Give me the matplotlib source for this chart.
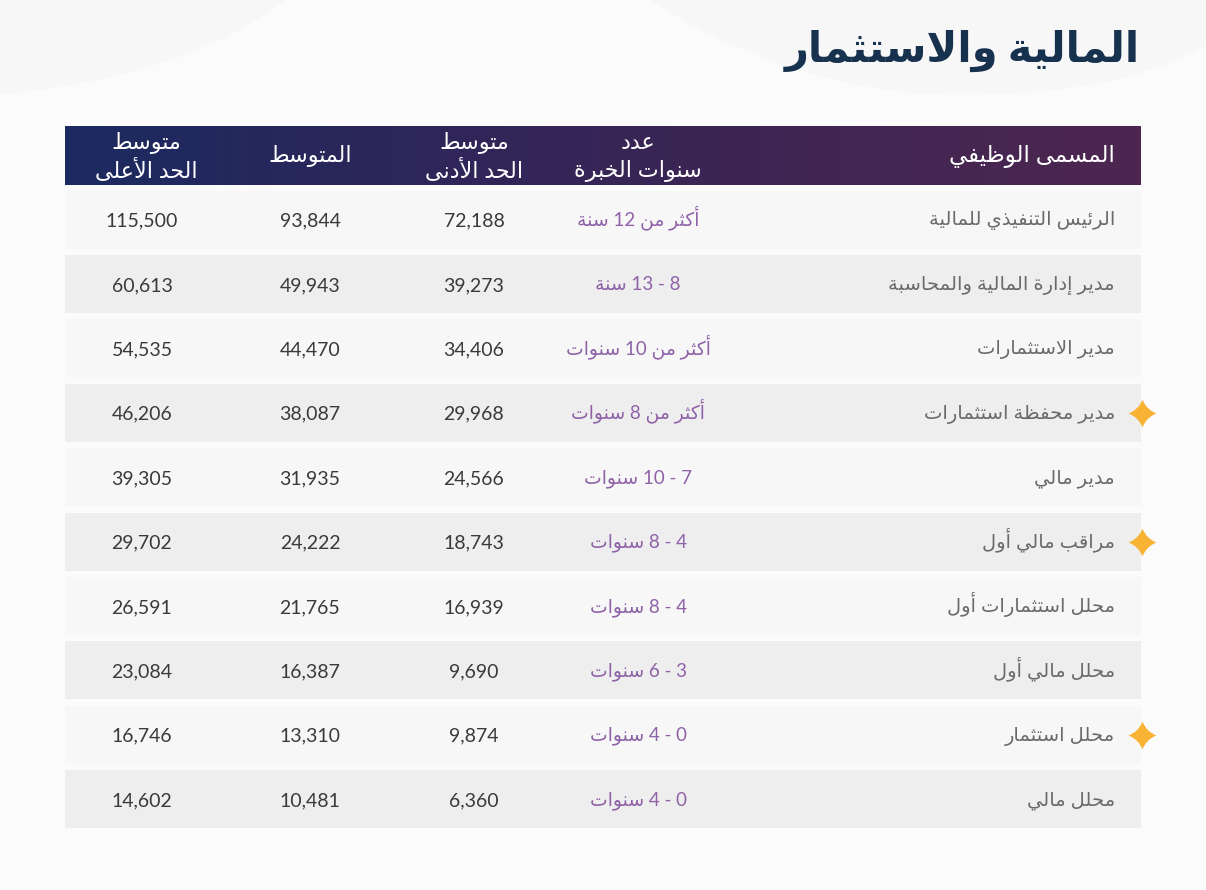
import re
import matplotlib
matplotlib.use("Agg")
import matplotlib.pyplot as plt
import numpy as np
from matplotlib.colors import LinearSegmentedColormap
from matplotlib.patches import PathPatch, Rectangle
from matplotlib.path import Path

title = "المالية والاستثمار"
headers = ["متوسط\nالحد الأعلى", "المتوسط", "متوسط\nالحد الأدنى", "عدد\nسنوات الخبرة", "المسمى الوظيفي"]
jobs = [
    "الرئيس التنفيذي للمالية",
    "مدير إدارة المالية والمحاسبة",
    "مدير الاستثمارات",
    "مدير محفظة استثمارات",
    "مدير مالي",
    "مراقب مالي أول",
    "محلل استثمارات أول",
    "محلل مالي أول",
    "محلل استثمار",
    "محلل مالي",
]
experience = [
    "أكثر من 12 سنة",
    "8 - 13 سنة",
    "أكثر من 10 سنوات",
    "أكثر من 8 سنوات",
    "7 - 10 سنوات",
    "4 - 8 سنوات",
    "4 - 8 سنوات",
    "3 - 6 سنوات",
    "0 - 4 سنوات",
    "0 - 4 سنوات",
]
salary_min = [72188, 39273, 34406, 29968, 24566, 18743, 16939, 9690, 9874, 6360]
salary_avg = [93844, 49943, 44470, 38087, 31935, 24222, 21765, 16387, 13310, 10481]
salary_max = [115500, 60613, 54535, 46206, 39305, 29702, 26591, 23084, 16746, 14602]
starred = [False, False, False, True, False, True, False, False, True, False]

# first presentation form of each letter, and whether it has initial/medial forms
FORMS = {
    "آ": (0xFE81, 2), "أ": (0xFE83, 2), "ؤ": (0xFE85, 2), "إ": (0xFE87, 2), "ئ": (0xFE89, 4),
    "ا": (0xFE8D, 2), "ب": (0xFE8F, 4), "ة": (0xFE93, 2), "ت": (0xFE95, 4), "ث": (0xFE99, 4),
    "ج": (0xFE9D, 4), "ح": (0xFEA1, 4), "خ": (0xFEA5, 4), "د": (0xFEA9, 2), "ذ": (0xFEAB, 2),
    "ر": (0xFEAD, 2), "ز": (0xFEAF, 2), "س": (0xFEB1, 4), "ش": (0xFEB5, 4), "ص": (0xFEB9, 4),
    "ض": (0xFEBD, 4), "ط": (0xFEC1, 4), "ظ": (0xFEC5, 4), "ع": (0xFEC9, 4), "غ": (0xFECD, 4),
    "ف": (0xFED1, 4), "ق": (0xFED5, 4), "ك": (0xFED9, 4), "ل": (0xFEDD, 4), "م": (0xFEE1, 4),
    "ن": (0xFEE5, 4), "ه": (0xFEE9, 4), "و": (0xFEED, 2), "ى": (0xFEEF, 2), "ي": (0xFEF1, 4),
}
LAM_ALEF = {"آ": 0xFEF5, "أ": 0xFEF7, "إ": 0xFEF9, "ا": 0xFEFB}


def shape_line(line):
    # matplotlib has no arabic shaping or bidi, so do it here
    out = []
    i = 0
    prev_joins = False
    while i < len(line):
        ch = line[i]
        if ch not in FORMS:
            out.append(ch)
            prev_joins = False
            i += 1
            continue
        if ch == "ل" and i + 1 < len(line) and line[i + 1] in LAM_ALEF:
            out.append(chr(LAM_ALEF[line[i + 1]] + (1 if prev_joins else 0)))
            prev_joins = False
            i += 2
            continue
        base, n = FORMS[ch]
        next_ch = line[i + 1] if i + 1 < len(line) else ""
        next_joins = n == 4 and next_ch in FORMS
        if prev_joins and next_joins:
            code = base + 3
        elif next_joins:
            code = base + 2
        elif prev_joins:
            code = base + 1
        else:
            code = base
        out.append(chr(code))
        prev_joins = next_joins
        i += 1
    visual = "".join(out)[::-1]
    return re.sub(r"\d+", lambda m: m.group(0)[::-1], visual)


W, H = 1206, 890
FONT = ["Lato", "DejaVu Sans"]
plt.rcParams["font.family"] = FONT

fig = plt.figure(figsize=(W / 100, H / 100), dpi=100, facecolor="#fbfbfc")
ax = fig.add_axes([0, 0, 1, 1])
ax.axis("off")

# pale curved shapes behind the title
left_blob = Path(
    [(0, 0), (285, 0), (190, 75), (0, 95), (0, 0)],
    [Path.MOVETO, Path.LINETO, Path.CURVE3, Path.CURVE3, Path.CLOSEPOLY],
)
right_blob = Path(
    [(650, 0), (800, 95), (960, 95), (1120, 95), (1206, 45), (1206, 0), (650, 0)],
    [Path.MOVETO, Path.CURVE3, Path.CURVE3, Path.CURVE3, Path.CURVE3, Path.LINETO, Path.CLOSEPOLY],
)
ax.add_patch(PathPatch(left_blob, fc="#f7f7f8", ec="none"))
ax.add_patch(PathPatch(right_blob, fc="#f7f7f8", ec="none"))

ax.text(1140, 62, shape_line(title), ha="right", va="baseline", fontsize=30, fontweight="bold", color="#17324f")

# header band
x0, x1 = 65, 1141
cmap = LinearSegmentedColormap.from_list("band", ["#1b2a60", "#2e2659", "#3f2553", "#4d2750"])
ax.imshow(np.linspace(0, 1, 256).reshape(1, -1), cmap=cmap, extent=(x0, x1, 185, 126), aspect="auto", zorder=1)

col_x = [146, 310, 474, 638]
for x, label in zip(col_x, headers):
    parts = label.split("\n")
    baselines = [149, 177] if len(parts) == 2 else [162]
    for part, base_y in zip(parts, baselines):
        ax.text(x, base_y, shape_line(part), ha="center", va="baseline", fontsize=16, color="white", zorder=3)
ax.text(1115, 162, shape_line(headers[4]), ha="right", va="baseline", fontsize=16.5, color="white", zorder=3)

# rows
first_row, row_step, row_h = 219.5, 64.4, 58
star = Path(
    [(0, 1), (0.28, 0.28), (1, 0), (0.28, -0.28), (0, -1), (-0.28, -0.28), (-1, 0), (-0.28, 0.28), (0, 1), (0, 1)],
    [Path.MOVETO, Path.CURVE3, Path.CURVE3, Path.CURVE3, Path.CURVE3, Path.CURVE3, Path.CURVE3, Path.CURVE3, Path.CURVE3, Path.CLOSEPOLY],
)
for i, job in enumerate(jobs):
    y = first_row + i * row_step
    ax.add_patch(Rectangle((x0, y - row_h / 2), x1 - x0, row_h, fc="#eeeeef" if i % 2 else "#f7f7f8", ec="none", zorder=1))
    ax.text(1115, y + 6, shape_line(job), ha="right", va="baseline", fontsize=14, color="#6a6a6d", zorder=3)
    ax.text(col_x[3], y + 6, shape_line(experience[i]), ha="center", va="baseline", fontsize=13.5, color="#8f62a8", zorder=3)
    ax.text(col_x[2], y + 7, f"{salary_min[i]:,}", ha="center", va="baseline", fontsize=14, color="#3a3a3c", zorder=3)
    ax.text(col_x[1], y + 7, f"{salary_avg[i]:,}", ha="center", va="baseline", fontsize=14, color="#3a3a3c", zorder=3)
    ax.text(142, y + 7, f"{salary_max[i]:,}", ha="center", va="baseline", fontsize=14, color="#3a3a3c", zorder=3)
    if starred[i]:
        ax.scatter([1141.5], [y], marker=star, s=400, color="#f8b334", linewidths=0, zorder=4)

ax.set_xlim(0, W)
ax.set_ylim(H, 0)
fig.savefig("out.png", dpi=100, facecolor=fig.get_facecolor())
